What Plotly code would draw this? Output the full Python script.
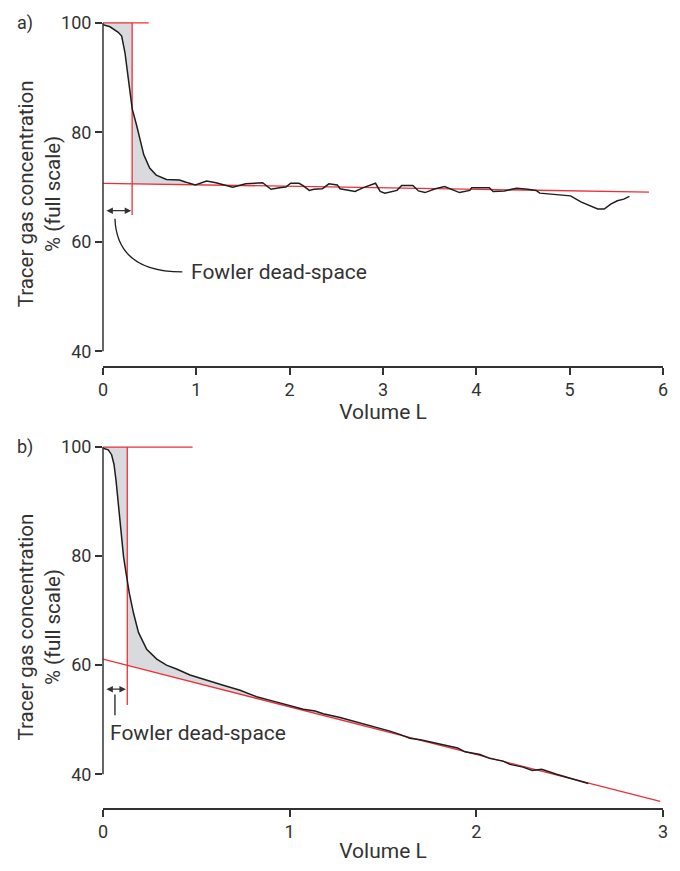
import numpy as np
import plotly.graph_objects as go

# ---------------- data ----------------
# Panel a)
a_volume = [0, 0.075, 0.163, 0.2, 0.235, 0.26, 0.288, 0.313, 0.36, 0.40, 0.437, 0.5, 0.57, 0.68,
            0.82, 0.89, 0.99, 1.11, 1.21, 1.39, 1.53, 1.71, 1.80, 1.89, 1.96, 2.01, 2.10, 2.14,
            2.21, 2.26, 2.35, 2.42, 2.51, 2.54, 2.70, 2.79, 2.86, 2.92, 2.97, 3.02, 3.15, 3.20,
            3.32, 3.38, 3.45, 3.56, 3.66, 3.73, 3.82, 3.93, 3.95, 4.14, 4.18, 4.30, 4.43, 4.55,
            4.64, 4.68, 4.84, 5.01, 5.12, 5.21, 5.30, 5.37, 5.44, 5.51, 5.58, 5.64]
a_conc = [99.7, 99.3, 98.3, 97.6, 94.6, 91.0, 87.3, 84.3, 81.3, 78.3, 75.9, 73.5, 72.2, 71.4,
          71.3, 70.9, 70.4, 71.1, 70.8, 70.0, 70.6, 70.8, 69.6, 69.9, 70.0, 70.7, 70.7, 70.3,
          69.4, 69.6, 69.7, 70.6, 70.4, 69.7, 69.2, 69.9, 70.3, 70.7, 69.2, 68.9, 69.4, 70.3,
          70.3, 69.3, 69.0, 69.7, 70.1, 69.6, 69.0, 69.4, 69.9, 69.9, 69.2, 69.3, 69.8, 69.6,
          69.4, 68.9, 68.7, 68.4, 67.3, 66.7, 66.0, 66.0, 66.9, 67.5, 67.8, 68.3]
a_fit_v = [0, 5.85]
a_fit_c = [70.7, 69.1]
a_dead_v = 0.312
a_top_v = [0, 0.49]
a_vline_c = [100, 64.9]
a_shade_end = 0.95

# Panel b)
b_volume = [0, 0.028, 0.046, 0.059, 0.07, 0.082, 0.095, 0.11, 0.124, 0.141, 0.163, 0.19, 0.234,
            0.288, 0.34, 0.394, 0.466, 0.555, 0.644, 0.734, 0.823, 0.912, 1.0, 1.073, 1.136,
            1.18, 1.27, 1.323, 1.41, 1.484, 1.537, 1.59, 1.644, 1.70, 1.787, 1.859, 1.90, 1.94,
            2.02, 2.07, 2.144, 2.18, 2.25, 2.30, 2.35, 2.43, 2.52, 2.60]
b_conc = [99.8, 99.5, 98.6, 96.8, 93.8, 89.5, 84.7, 79.9, 76.8, 73.2, 69.6, 66.0, 62.9, 61.1,
          60.0, 59.3, 58.2, 57.2, 56.3, 55.4, 54.2, 53.4, 52.5, 51.9, 51.6, 51.1, 50.4, 49.9,
          49.2, 48.4, 47.9, 47.3, 46.6, 46.3, 45.7, 45.1, 44.8, 44.1, 43.6, 42.9, 42.4, 41.8,
          41.3, 40.7, 40.9, 40.0, 39.1, 38.3]
b_fit_v = [0, 2.985]
b_fit_c = [61.1, 35.0]
b_dead_v = 0.13
b_top_v = [0, 0.48]
b_vline_c = [100, 52.7]
b_shade_end = 2.60

y_ticks = [40, 60, 80, 100]
a_x_ticks = [0, 1, 2, 3, 4, 5, 6]
b_x_ticks = [0, 1, 2, 3]

y_title = "Tracer gas concentration<br>% (full scale)"
x_title = "Volume L"
callout_text = "Fowler dead-space"

RED = "#ec2f39"
BLACK = "#1e1e1e"
AXIS = "#333333"
FILL = "#d9dadd"
FONT = "Roboto"

fig = go.Figure()


def add_panel(vol, conc, fit_v, fit_c, dead_v, top_v, vline_c, shade_end, xa, ya):
    vol = np.asarray(vol, float)
    conc = np.asarray(conc, float)
    fit = lambda v: np.interp(v, fit_v, fit_c)
    c_dead = np.interp(dead_v, vol, conc)
    m1 = vol < dead_v
    x1 = list(vol[m1]) + [dead_v, dead_v, 0]
    y1 = list(conc[m1]) + [c_dead, 100, 100]
    fig.add_trace(go.Scatter(x=x1, y=y1, fill="toself", fillcolor=FILL, mode="none",
                             xaxis=xa, yaxis=ya, showlegend=False, hoverinfo="skip"))
    m2 = (vol > dead_v) & (vol <= shade_end)
    xs = np.array([dead_v] + list(vol[m2]))
    ys = np.array([c_dead] + list(conc[m2]))
    x2 = list(xs) + list(xs[::-1])
    y2 = list(ys) + list(fit(xs[::-1]))
    fig.add_trace(go.Scatter(x=x2, y=y2, fill="toself", fillcolor=FILL, mode="none",
                             xaxis=xa, yaxis=ya, showlegend=False, hoverinfo="skip"))
    fig.add_trace(go.Scatter(x=top_v, y=[100, 100], mode="lines", line=dict(color=RED, width=1.3),
                             xaxis=xa, yaxis=ya, showlegend=False, hoverinfo="skip"))
    fig.add_trace(go.Scatter(x=[dead_v, dead_v], y=vline_c, mode="lines",
                             line=dict(color=RED, width=1.3),
                             xaxis=xa, yaxis=ya, showlegend=False, hoverinfo="skip"))
    fig.add_trace(go.Scatter(x=fit_v, y=fit_c, mode="lines", line=dict(color=RED, width=1.3),
                             xaxis=xa, yaxis=ya, showlegend=False, hoverinfo="skip"))
    fig.add_trace(go.Scatter(x=vol, y=conc, mode="lines", line=dict(color=BLACK, width=1.5),
                             xaxis=xa, yaxis=ya, showlegend=False))


add_panel(a_volume, a_conc, a_fit_v, a_fit_c, a_dead_v, a_top_v, a_vline_c, a_shade_end, "x", "y")
add_panel(b_volume, b_conc, b_fit_v, b_fit_c, b_dead_v, b_top_v, b_vline_c, b_shade_end, "x2", "y2")

tickfont = dict(family=FONT, size=18, color=AXIS)
titlefont = dict(family=FONT, size=21, color=AXIS)
ytitlefont = dict(family=FONT, size=20.5, color=AXIS)

common_x = dict(showline=True, linecolor=AXIS, linewidth=1.5, ticks="outside", ticklen=7,
                tickwidth=1.5, tickcolor=AXIS, showgrid=False, zeroline=False, tickfont=tickfont)
common_y = dict(showline=False, ticks="outside", ticklen=7, tickwidth=1.5, tickcolor=AXIS,
                showgrid=False, zeroline=False, tickfont=tickfont, tickvals=y_ticks)

A_DOM = [0.5616, 1]
B_DOM = [0, 0.4607]

fig.update_layout(
    width=680, height=871,
    margin=dict(l=103, r=14, t=18, b=57),
    plot_bgcolor="white", paper_bgcolor="white",
    font=dict(family=FONT, color=AXIS),
    xaxis=dict(domain=[0, 1], range=[0, 6], tickvals=a_x_ticks, anchor="y",
               title=dict(text=x_title, font=titlefont, standoff=2), **common_x),
    yaxis=dict(domain=A_DOM, range=[37.3, 100.36], anchor="x", **common_y),
    xaxis2=dict(domain=[0, 1], range=[0, 3], tickvals=b_x_ticks, anchor="y2",
                title=dict(text=x_title, font=titlefont, standoff=2), **common_x),
    yaxis2=dict(domain=B_DOM, range=[33.8, 100.3], anchor="x2", **common_y),
)

# y-axis titles (rotated text), centred on each panel
for dom in (A_DOM, B_DOM):
    fig.add_annotation(x=-0.1128, y=(dom[0] + dom[1]) / 2, xref="paper", yref="paper",
                       text=y_title, textangle=-90, showarrow=False, xanchor="center",
                       yanchor="middle", font=ytitlefont)

# detached y-axis lines spanning 40..100
for xr, yr in (("x domain", "y"), ("x2 domain", "y2")):
    fig.add_shape(type="line", xref=xr, yref=yr, x0=0, x1=0, y0=y_ticks[0], y1=y_ticks[-1],
                  line=dict(color=AXIS, width=1.5))

fig.add_annotation(x=a_dead_v - 0.01, y=65.7, ax=0.02, ay=65.7, xref="x", yref="y",
                   axref="x", ayref="y", text="", showarrow=True, arrowhead=2, startarrowhead=2,
                   arrowside="end+start", arrowsize=1, arrowwidth=1.3, arrowcolor=AXIS)
fig.add_annotation(x=b_dead_v - 0.007, y=55.6, ax=0.01, ay=55.6, xref="x2", yref="y2",
                   axref="x2", ayref="y2", text="", showarrow=True, arrowhead=2, startarrowhead=2,
                   arrowside="end+start", arrowsize=1, arrowwidth=1.3, arrowcolor=AXIS)

fig.add_shape(type="path", xref="x", yref="y", path="M 0.128,64.2 Q 0.15,54.5 0.85,54.5",
              line=dict(color=BLACK, width=1.3))
fig.add_annotation(x=0.92, y=54.5, xref="x", yref="y", text=callout_text, showarrow=False,
                   xanchor="left", yanchor="middle", font=titlefont)
fig.add_shape(type="line", xref="x2", yref="y2", x0=0.064, x1=0.064, y0=54.6, y1=50.8,
              line=dict(color=BLACK, width=1.3))
fig.add_annotation(x=0.028, y=47.5, xref="x2", yref="y2", text=callout_text, showarrow=False,
                   xanchor="left", yanchor="middle", font=titlefont)

fig.add_annotation(x=-0.1385, y=0.998, xref="paper", yref="paper", text="a)", showarrow=False,
                   xanchor="center", yanchor="middle", font=dict(family=FONT, size=18, color=AXIS))
fig.add_annotation(x=-0.1385, y=0.4587, xref="paper", yref="paper", text="b)", showarrow=False,
                   xanchor="center", yanchor="middle", font=dict(family=FONT, size=18, color=AXIS))

fig.write_html("out.html", config={"displayModeBar": False},
               post_script="document.body.style.margin='0';document.body.style.overflow='hidden';")
